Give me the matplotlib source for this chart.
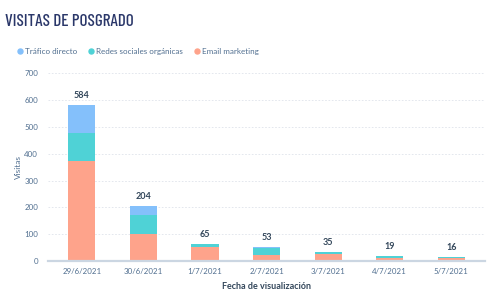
import matplotlib

matplotlib.use("Agg")
import matplotlib.pyplot as plt
from matplotlib.lines import Line2D

fechas = ["29/6/2021", "30/6/2021", "1/7/2021", "2/7/2021", "3/7/2021", "4/7/2021", "5/7/2021"]
email = [375, 100, 52, 22, 25, 12, 10]
social = [104, 72, 11, 25, 8, 6, 5]
directo = [105, 32, 2, 6, 2, 1, 1]
series = ["Tráfico directo", "Redes sociales orgánicas", "Email marketing"]
colores = ["#84c0fb", "#4fd2d6", "#fea38b"]
yticks = [0, 100, 200, 300, 400, 500, 600, 700]

plt.rcParams["font.family"] = ["Lato", "DejaVu Sans"]
gris = "#516f90"
oscuro = "#33475b"

fig = plt.figure(figsize=(4.95, 2.96), dpi=100)
ax = fig.add_axes([0.097, 0.118, 0.883, 0.634])

xs = list(range(len(fechas)))
ancho = 0.44
ax.bar(xs, email, width=ancho, color=colores[2], zorder=2)
base2 = email
ax.bar(xs, social, width=ancho, bottom=base2, color=colores[1], zorder=2)
base3 = [a + b for a, b in zip(email, social)]
ax.bar(xs, directo, width=ancho, bottom=base3, color=colores[0], zorder=2)

totales = [a + b + c for a, b, c in zip(email, social, directo)]
for x, t in zip(xs, totales):
    ax.annotate(str(t), (x, t), textcoords="offset points", xytext=(0, 5), ha="center",
                fontsize=6.5, fontweight="bold", color=oscuro)

ax.set_xlim(-0.55, 6.55)
ax.set_ylim(0, 700)
ax.set_yticks(yticks)
ax.set_xticks(xs)
ax.set_xticklabels(fechas)
ax.tick_params(axis="both", length=0, labelsize=5.7, colors=gris)
ax.tick_params(axis="y", pad=7)
ax.tick_params(axis="x", pad=5)
ax.grid(axis="y", color="#dfe3eb", linestyle=(0, (2, 2)), linewidth=0.6, zorder=0)
for s in ["top", "right", "left"]:
    ax.spines[s].set_visible(False)
ax.spines["bottom"].set_color("#cbd6e2")
ax.spines["bottom"].set_linewidth(1.6)
ax.spines["bottom"].set_zorder(3)

ax.set_ylabel("Visitas", fontsize=6, color=gris, labelpad=2)
ax.set_xlabel("Fecha de visualización", fontsize=6.5, fontweight="bold", color=oscuro, labelpad=5)

fig.text(0.011, 0.926, "VISITAS DE POSGRADO", fontsize=12.3, fontweight="medium", color="#2a3769",
         family=["Barlow Condensed", "Roboto Condensed", "Roboto", "DejaVu Sans"],
         va="center", ha="left")

handles = [Line2D([], [], marker="o", linestyle="", markersize=3.6, color=c) for c in colores]
fig.legend(handles, series, loc="center left", bbox_to_anchor=(0.034, 0.826), ncol=3, frameon=False,
           fontsize=5.8, labelcolor=gris, handletextpad=0.2, columnspacing=1.35, handlelength=0.8,
           borderpad=0, borderaxespad=0)

fig.savefig("out.png", dpi=100)
plt.close(fig)
